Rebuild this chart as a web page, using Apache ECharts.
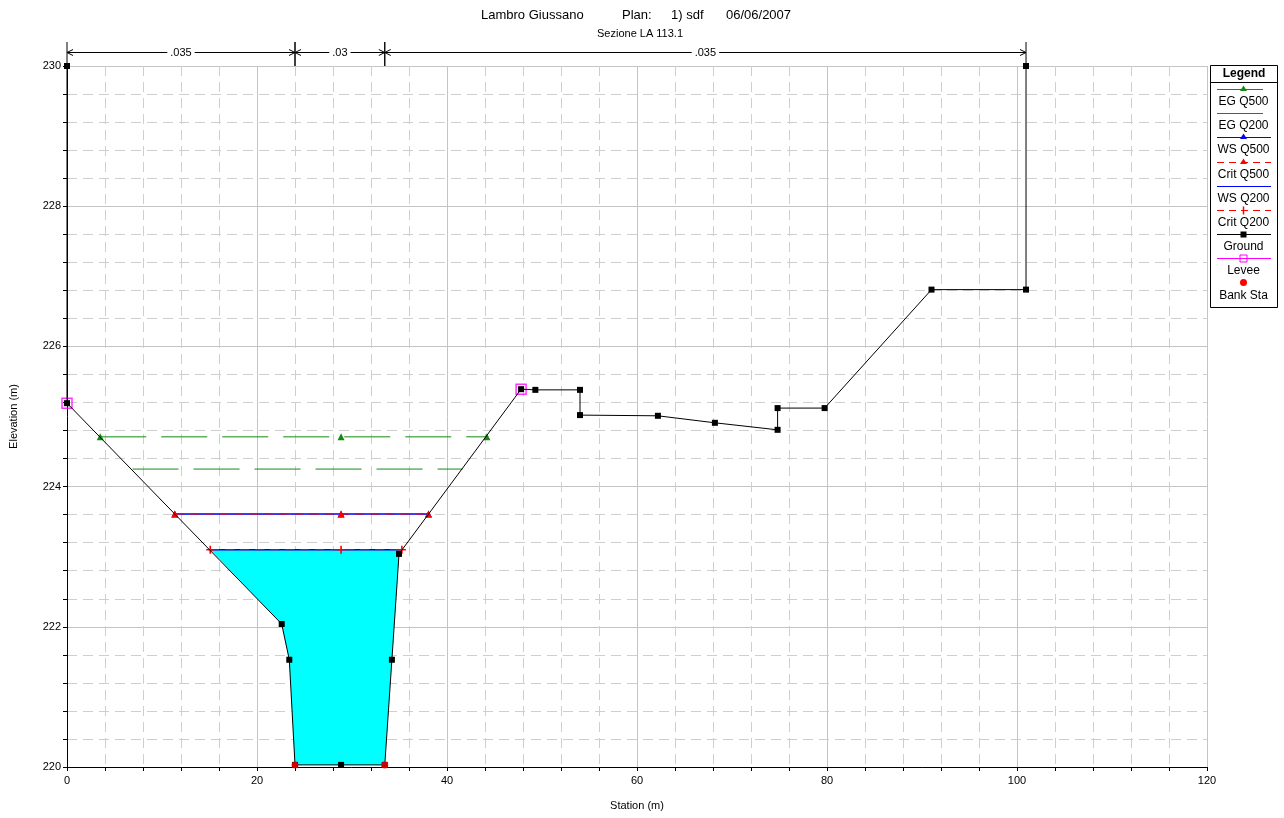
<!DOCTYPE html>
<html>
<head>
<meta charset="utf-8">
<script src="https://cdn.jsdelivr.net/npm/echarts@6/dist/echarts.min.js"></script>
<style>
html,body{margin:0;padding:0;background:#fff;}
#chart{width:1284px;height:818px;}
</style>
</head>
<body>
<div id="chart"></div>
<script>
// ---------- data ----------
const groundSta  = [0, 0, 22.6, 23.4, 24.0, 28.85, 33.45, 34.2, 34.95, 47.8, 49.3, 54.0, 54.0, 62.2, 68.2, 74.8, 74.8, 79.75, 91.0, 100.95, 100.95];
const groundElev = [230, 225.19, 222.04, 221.53, 220.03, 220.03, 220.03, 221.53, 223.04, 225.39, 225.38, 225.38, 225.02, 225.01, 224.91, 224.81, 225.12, 225.12, 226.81, 226.81, 230];

const levSta  = [0, 47.8];
const levElev = [225.19, 225.39];

const bankSta  = [24.0, 33.45];
const bankElev = [220.03, 220.03];

const egQ500Sta  = [3.5, 28.85, 44.2];
const egQ500Elev = 224.71;
const egQ200Sta  = [6.9, 41.65];
const egQ200Elev = 224.25;
const wsQ500Sta  = [11.35, 28.85, 38.05];
const wsQ500Elev = 223.61;
const wsQ200Sta  = [15.08, 28.85, 35.25];
const wsQ200Elev = 223.10;

const nBreaks = [0, 24.0, 33.45, 100.95];
const nValues = ['.035', '.03', '.035'];

const titleParts = ['Lambro Giussano', 'Plan:', '1) sdf', '06/06/2007'];
const subText = 'Sezione LA 113.1';

const legendNames = ['EG Q500', 'EG Q200', 'WS Q500', 'Crit Q500', 'WS Q200', 'Crit Q200', 'Ground', 'Levee', 'Bank Sta'];

// ---------- derived ----------
const GREEN = '#138a13', BLUE = '#0000ff', RED = '#ff0000', MAG = '#ff00ff', CYAN = '#00ffff';
const FONT = '"Liberation Sans", Arial, sans-serif';
const PLUS = 'path://M4,0H6V4H10V6H6V10H4V6H0V4H4Z';

const hLine = (stas, elev) => stas.map(s => [s, elev]);
const pairs = (a, b) => a.map((v, i) => [v, b[i]]);

// water polygon: WS Q200 level between its ends, ground below
const wsL = wsQ200Sta[0], wsR = wsQ200Sta[wsQ200Sta.length - 1];
const waterPoly = [[wsL, wsQ200Elev]];
groundSta.forEach((s, i) => { if (s > wsL && s < wsR && groundElev[i] < wsQ200Elev) waterPoly.push([s, groundElev[i]]); });
waterPoly.push([wsR, wsQ200Elev]);

const nSeg = nValues.map((v, i) => [nBreaks[i], nBreaks[i + 1]]);

const yMin = 220, yMax = 230;

// ---------- legend graphic ----------
const LX = 1210, LY = 65, LW = 67, LH = 242;
const legendEls = [
  {type: 'rect', shape: {x: LX + 0.5, y: LY + 0.5, width: LW, height: LH}, style: {fill: '#fff', stroke: '#000', lineWidth: 1}},
  {type: 'line', shape: {x1: LX, y1: LY + 17.5, x2: LX + LW, y2: LY + 17.5}, style: {stroke: '#000', lineWidth: 1}},
  {type: 'text', x: LX + LW / 2 + 0.5, y: LY + 9, style: {text: 'Legend', font: 'bold 12px ' + FONT, fill: '#000', align: 'center', verticalAlign: 'middle'}}
];
const legLine = [
  {c: GREEN, dash: null, sym: 'tri', x2: 1263},
  {c: GREEN, dash: null, sym: null, x2: 1263},
  {c: BLUE, dash: null, sym: 'tri', x2: 1271},
  {c: RED, dash: [7, 5], sym: 'tri', x2: 1271},
  {c: BLUE, dash: null, sym: null, x2: 1271},
  {c: RED, dash: [7, 5], sym: 'plus', x2: 1271},
  {c: '#000', dash: null, sym: 'sq', x2: 1271},
  {c: MAG, dash: null, sym: 'hsq', x2: 1271},
  {c: RED, dash: null, sym: 'dot', x2: 0}
];
legendNames.forEach((nm, i) => {
  const ly = Math.round(89 + i * 24.2) + 0.5;
  const L = legLine[i];
  const cx = 1243.5;
  if (L.x2) legendEls.push({type: 'line', shape: {x1: 1217, y1: ly, x2: L.x2, y2: ly}, style: {stroke: L.c, lineWidth: 1, lineDash: L.dash}});
  if (L.sym === 'tri') legendEls.push({type: 'polygon', shape: {points: [[cx, ly - 4], [cx - 3.5, ly + 1.5], [cx + 3.5, ly + 1.5]]}, style: {fill: L.c}});
  if (L.sym === 'plus') legendEls.push({type: 'polyline', shape: {points: [[cx, ly - 4], [cx, ly + 4]]}, style: {stroke: L.c, lineWidth: 1.5}});
  if (L.sym === 'sq') legendEls.push({type: 'rect', shape: {x: cx - 3, y: ly - 3, width: 6, height: 6}, style: {fill: '#000'}});
  if (L.sym === 'hsq') legendEls.push({type: 'rect', shape: {x: cx - 3.5, y: ly - 3.5, width: 7, height: 7}, style: {fill: 'none', stroke: MAG, lineWidth: 1}});
  if (L.sym === 'dot') legendEls.push({type: 'circle', shape: {cx: cx, cy: ly - 1, r: 3.5}, style: {fill: RED}});
  legendEls.push({type: 'text', x: cx, y: ly + 12, style: {text: nm, font: '12px ' + FONT, fill: '#000', align: 'center', verticalAlign: 'middle'}});
});

// ---------- chart ----------
const chart = echarts.init(document.getElementById('chart'), null, {renderer: 'canvas'});

const axisCommon = {
  type: 'value',
  axisLine: {show: true, onZero: false, lineStyle: {color: '#000', width: 1}},
  axisTick: {show: true, inside: false, length: 4, lineStyle: {color: '#000'}},
  minorTick: {show: true, splitNumber: 5, length: 4, lineStyle: {color: '#000'}},
  splitLine: {show: true, lineStyle: {color: '#c4c4c4', width: 1}},
  minorSplitLine: {show: true, lineStyle: {color: '#cfcfcf', width: 1, type: [10, 6]}},
  axisLabel: {color: '#000', fontSize: 11, fontFamily: FONT},
  nameLocation: 'middle',
  nameTextStyle: {color: '#000', fontSize: 11, fontFamily: FONT}
};

const titleLeft = [481, 622, 671, 726];
const titleStyle = {fontSize: 13, fontWeight: 'normal', color: '#000', fontFamily: FONT};

const option = {
  animation: false,
  backgroundColor: '#fff',
  title: titleParts.map((t, i) => ({text: t, left: titleLeft[i], top: 9, padding: 0, textStyle: titleStyle}))
    .concat([{text: subText, left: 597, top: 28, padding: 0, textStyle: {fontSize: 11, fontWeight: 'normal', color: '#000', fontFamily: FONT}}]),
  grid: {left: 65, right: 77, top: 66, bottom: 51, containLabel: false},
  xAxis: Object.assign({}, axisCommon, {
    min: 0, max: 120, interval: 20, name: 'Station (m)', nameGap: 33,
    axisLabel: Object.assign({}, axisCommon.axisLabel, {margin: 8})
  }),
  yAxis: Object.assign({}, axisCommon, {
    min: yMin, max: yMax, interval: 2, name: 'Elevation (m)', nameGap: 48,
    axisLabel: Object.assign({}, axisCommon.axisLabel, {margin: 6})
  }),
  graphic: legendEls,
  series: [
    {
      type: 'custom', name: 'water', z: 1, silent: true,
      data: [waterPoly[0]],
      renderItem: function (params, api) {
        return {type: 'polygon', shape: {points: waterPoly.map(p => api.coord(p))}, style: {fill: CYAN, stroke: null}};
      }
    },
    {
      type: 'line', name: 'EG Q200', z: 3, symbol: 'none',
      data: hLine(egQ200Sta, egQ200Elev),
      lineStyle: {color: GREEN, width: 1, type: [46, 15]}
    },
    {
      type: 'line', name: 'EG Q500', z: 3, symbol: 'triangle', symbolSize: 7, showAllSymbol: true,
      data: hLine(egQ500Sta, egQ500Elev),
      itemStyle: {color: GREEN}, lineStyle: {color: GREEN, width: 1, type: [46, 15]}
    },
    {
      type: 'line', name: 'WS Q500', z: 3, symbol: 'triangle', symbolSize: 7, showAllSymbol: true,
      data: hLine(wsQ500Sta, wsQ500Elev),
      itemStyle: {color: BLUE}, lineStyle: {color: BLUE, width: 1.5}
    },
    {
      type: 'line', name: 'Crit Q500', z: 4, symbol: 'triangle', symbolSize: 7, showAllSymbol: true,
      data: hLine(wsQ500Sta, wsQ500Elev),
      itemStyle: {color: RED}, lineStyle: {color: RED, width: 1, type: [9, 6]}
    },
    {
      type: 'line', name: 'WS Q200', z: 3, symbol: 'none',
      data: hLine(wsQ200Sta, wsQ200Elev),
      lineStyle: {color: BLUE, width: 1.5}
    },
    {
      type: 'line', name: 'Crit Q200', z: 4, symbol: PLUS, symbolSize: 8, showAllSymbol: true,
      data: hLine(wsQ200Sta, wsQ200Elev),
      itemStyle: {color: RED}, lineStyle: {color: RED, width: 1, type: [9, 6]}
    },
    {
      type: 'scatter', name: 'Levee', z: 5, symbol: 'rect', symbolSize: 10,
      data: pairs(levSta, levElev),
      itemStyle: {color: 'rgba(0,0,0,0)', borderColor: MAG, borderWidth: 1.5}
    },
    {
      type: 'line', name: 'Ground', z: 6, symbol: 'rect', symbolSize: 6, showAllSymbol: true,
      data: pairs(groundSta, groundElev),
      itemStyle: {color: '#000'}, lineStyle: {color: '#000', width: 1}
    },
    {
      type: 'scatter', name: 'Bank Sta', z: 7, symbol: 'circle', symbolSize: 7,
      data: pairs(bankSta, bankElev),
      itemStyle: {color: RED}
    },
    {
      type: 'custom', name: 'manning', z: 8, silent: true, clip: false,
      data: nSeg,
      renderItem: function (params, api) {
        const a = api.coord([api.value(0), yMax]);
        const b = api.coord([api.value(1), yMax]);
        const ly = a[1] - 13.5;
        const s = {stroke: '#000', lineWidth: 1, fill: null};
        const mid = (a[0] + b[0]) / 2;
        return {
          type: 'group',
          children: [
            {type: 'line', shape: {x1: a[0], y1: a[1] - 24, x2: a[0], y2: a[1]}, style: s},
            {type: 'line', shape: {x1: b[0], y1: a[1] - 24, x2: b[0], y2: a[1]}, style: s},
            {type: 'line', shape: {x1: a[0], y1: ly, x2: b[0], y2: ly}, style: s},
            {type: 'polyline', shape: {points: [[a[0] + 6, ly - 3], [a[0], ly], [a[0] + 6, ly + 3]]}, style: s},
            {type: 'polyline', shape: {points: [[b[0] - 6, ly - 3], [b[0], ly], [b[0] - 6, ly + 3]]}, style: s},
            {type: 'text', x: mid, y: ly, style: {text: nValues[params.dataIndex], font: '11px ' + FONT, fill: '#000', align: 'center', verticalAlign: 'middle', backgroundColor: '#fff', padding: [0, 3]}}
          ]
        };
      }
    }
  ]
};
chart.setOption(option);
</script>
</body>
</html>
